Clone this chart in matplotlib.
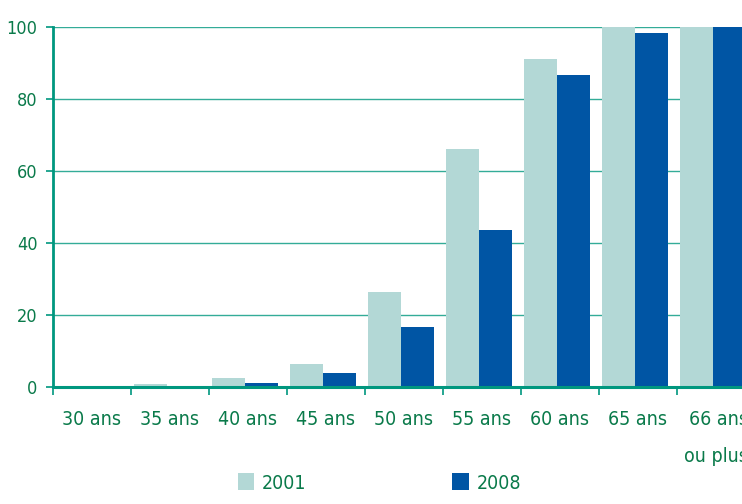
import numpy as np
import matplotlib.pyplot as plt
from matplotlib.patches import Patch

# Data
categories = ["30 ans", "35 ans", "40 ans", "45 ans", "50 ans", "55 ans",
              "60 ans", "65 ans", "66 ans\nou plus"]
values_2001 = [0, 0.7, 2.5, 6.3, 26.5, 66, 91.2, 100, 100]
values_2008 = [0, 0.1, 1.2, 3.8, 16.8, 43.6, 86.6, 98.2, 100]

green_text = "#0a7a4a"
teal = "#00977f"
c2001 = "#b3d8d6"
c2008 = "#0055a4"

plt.rcParams['font.family'] = ['DejaVu Sans']
plt.rcParams['font.stretch'] = 'condensed'

fig = plt.figure(figsize=(7.42, 5.04), dpi=100)
ax = fig.add_axes([53 / 742, 117 / 504, 702 / 742, 360 / 504])

x = np.arange(len(categories))
w = 0.425
off = -0.035
ax.bar(x + off - w / 2, values_2001, w, color=c2001, zorder=3)
ax.bar(x + off + w / 2, values_2008, w, color=c2008, zorder=3)

ax.set_xlim(-0.5, 8.5)
ax.set_ylim(0, 100)

# grid
for yv in [20, 40, 60, 80, 100]:
    ax.axhline(yv, color=teal, lw=1.0, alpha=0.8, zorder=1)

for s in ["top", "right"]:
    ax.spines[s].set_visible(False)
ax.spines["left"].set_color(teal)
ax.spines["left"].set_linewidth(2)
ax.spines["bottom"].set_color(teal)
ax.spines["bottom"].set_linewidth(2.2)
ax.spines["bottom"].set_zorder(4)

ax.set_yticks([0, 20, 40, 60, 80, 100])
ax.tick_params(axis="y", colors=teal, length=5, width=1.2, labelsize=13,
               labelcolor=green_text, pad=6)

ax.set_xticks(x)
ax.set_xticklabels([])
ax.set_xticks(np.arange(-0.5, 9, 1), minor=True)
ax.tick_params(axis="x", which="major", length=0)
ax.tick_params(axis="x", which="minor", colors=teal, length=6, width=1.2)

for i, lab in enumerate(categories):
    ax.text(i, -6.3, lab, ha="center", va="top", fontsize=14,
            color=green_text, multialignment="right", linespacing=2.25,
            transform=ax.transData, clip_on=False)

handles = [Patch(facecolor=c2001, label="2001"),
           Patch(facecolor=c2008, label="2008")]
leg = fig.legend(handles=handles, loc="lower left", bbox_to_anchor=(220 / 742, -0.012),
                 ncol=2, frameon=False, fontsize=14, handlelength=0.85,
                 handleheight=0.95, handletextpad=0.4, columnspacing=7.5)
for t in leg.get_texts():
    t.set_color(green_text)

fig.savefig("out.png", dpi=100)
